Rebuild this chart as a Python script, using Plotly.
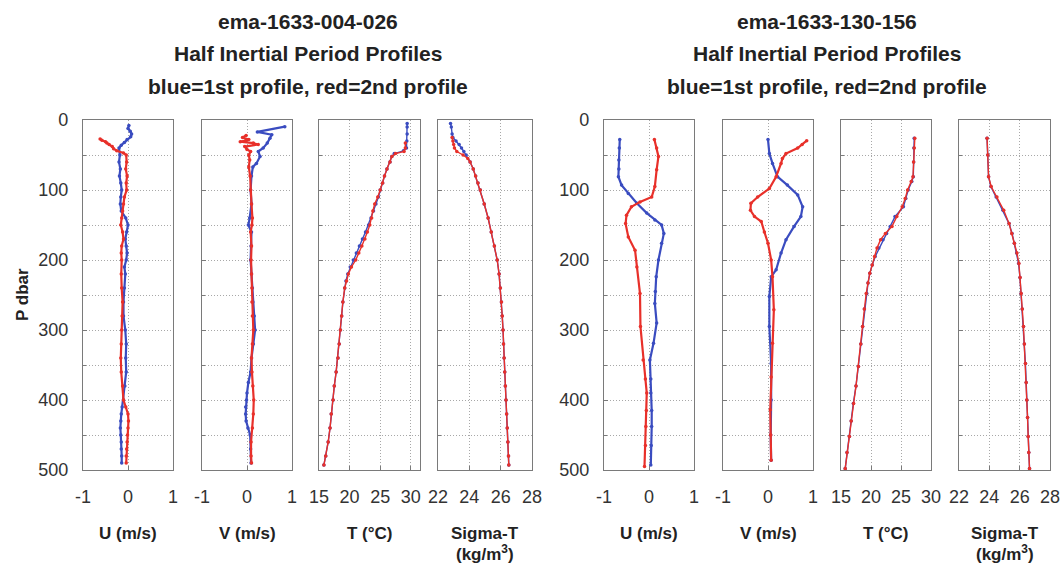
import plotly.graph_objects as go

# ---------------- data ----------------
# Left group: ema-1633-004-026
L_U_blue_P = [8, 12, 16, 20, 24, 28, 32, 36, 40, 50, 60, 70, 80, 90, 100, 110, 120, 130, 140, 150, 160, 170, 180, 190, 200, 210, 220, 240, 260, 280, 300, 320, 340, 360, 380, 400, 410, 420, 430, 440, 450, 460, 470, 480, 490]
L_U_blue = [0.02, 0.0, 0.05, 0.08, 0.06, -0.02, -0.08, -0.15, -0.2, -0.18, -0.2, -0.17, -0.19, -0.16, -0.14, -0.16, -0.17, -0.15, -0.05, 0.0, -0.03, -0.06, -0.04, -0.02, -0.04, -0.08, -0.06, -0.08, -0.1, -0.1, -0.06, -0.04, -0.05, -0.04, -0.07, -0.1, -0.13, -0.15, -0.16, -0.17, -0.16, -0.15, -0.15, -0.14, -0.14]
L_U_red_P = [27, 29, 31, 33, 35, 38, 41, 44, 47, 50, 60, 70, 80, 90, 100, 110, 120, 130, 140, 150, 160, 170, 180, 190, 200, 220, 240, 260, 280, 300, 320, 340, 360, 380, 400, 410, 420, 430, 440, 450, 460, 470, 480, 490]
L_U_red = [-0.62, -0.58, -0.5, -0.47, -0.42, -0.35, -0.32, -0.25, -0.1, -0.04, -0.03, -0.05, -0.02, -0.04, -0.03, -0.08, -0.1, -0.12, -0.14, -0.16, -0.12, -0.1, -0.14, -0.15, -0.14, -0.15, -0.14, -0.12, -0.13, -0.14, -0.15, -0.16, -0.15, -0.12, -0.1, -0.05, 0.0, 0.01, 0.0, -0.01, -0.02, -0.03, -0.04, -0.04]

L_V_blue_P = [9.5, 17, 21, 26, 33, 40, 45, 52, 62, 67, 80, 100, 120, 140, 150, 160, 180, 200, 220, 240, 260, 280, 300, 320, 340, 360, 375, 390, 400, 410, 420, 430, 440, 450, 470, 490]
L_V_blue = [0.84, 0.23, 0.55, 0.51, 0.45, 0.36, 0.25, 0.29, 0.21, 0.13, 0.1, 0.08, 0.1, 0.06, 0.03, 0.1, 0.09, 0.08, 0.1, 0.12, 0.13, 0.16, 0.18, 0.14, 0.1, 0.08, 0.03, 0.0, -0.01, -0.03, -0.03, -0.02, 0.02, 0.07, 0.08, 0.09]
L_V_red_P = [22, 25, 28, 31, 33, 35, 38, 42, 45, 50, 57, 67, 80, 100, 120, 140, 150, 160, 180, 200, 220, 240, 260, 280, 300, 320, 340, 360, 380, 400, 420, 440, 460, 480, 490]
L_V_red = [-0.02, -0.1, 0.04, -0.15, 0.14, 0.25, -0.05, 0.0, 0.08, 0.04, 0.06, 0.04, 0.07, 0.08, 0.1, 0.12, 0.11, 0.08, 0.1, 0.09, 0.1, 0.11, 0.11, 0.12, 0.14, 0.12, 0.1, 0.11, 0.13, 0.15, 0.14, 0.12, 0.09, 0.09, 0.1]

L_T_blue_P = [5, 10, 20, 30, 40, 44, 48, 52, 60, 70, 80, 90, 100, 110, 120, 130, 140, 150, 160, 170, 180, 190, 200, 210, 220, 230, 240, 260, 280, 300, 320, 340, 360, 380, 400, 420, 440, 460, 480, 493]
L_T_blue = [29.4, 29.4, 29.4, 29.35, 29.3, 28.8, 27.3, 26.9, 26.6, 26.1, 25.7, 25.4, 25.0, 24.7, 24.3, 23.9, 23.5, 23.1, 22.6, 22.1, 21.6, 21.1, 20.6, 20.1, 19.7, 19.4, 19.2, 18.9, 18.7, 18.5, 18.3, 18.1, 17.8, 17.5, 17.3, 17.0, 16.8, 16.5, 16.1, 15.8]
L_T_red_P = [33, 40, 45, 48, 52, 60, 70, 80, 90, 100, 110, 120, 130, 140, 150, 160, 170, 180, 190, 200, 210, 220, 230, 240, 260, 280, 300, 320, 340, 360, 380, 400, 420, 440, 460, 480, 493]
L_T_red = [29.1, 29.1, 28.9, 27.5, 26.9, 26.6, 26.1, 25.7, 25.4, 25.0, 24.6, 24.1, 23.8, 23.6, 23.3, 22.9, 22.5, 22.0, 21.5, 21.0, 20.3, 19.8, 19.5, 19.2, 18.9, 18.7, 18.5, 18.3, 18.1, 17.8, 17.5, 17.3, 17.0, 16.8, 16.5, 16.1, 15.8]

L_S_blue_P = [5, 10, 20, 25, 30, 35, 40, 45, 50, 60, 70, 80, 90, 100, 120, 140, 160, 180, 200, 220, 240, 260, 280, 300, 320, 340, 360, 380, 400, 420, 440, 460, 480, 493]
L_S_blue = [22.8, 22.85, 22.9, 22.95, 23.15, 23.35, 23.5, 23.65, 23.8, 24.05, 24.25, 24.4, 24.55, 24.7, 24.95, 25.2, 25.4, 25.6, 25.78, 25.9, 25.98, 26.05, 26.1, 26.15, 26.18, 26.22, 26.26, 26.3, 26.34, 26.38, 26.42, 26.46, 26.5, 26.52]
L_S_red_P = [25, 30, 35, 40, 45, 50, 55, 60, 70, 80, 90, 100, 120, 140, 160, 180, 200, 220, 240, 260, 280, 300, 320, 340, 360, 380, 400, 420, 440, 460, 480, 493]
L_S_red = [22.9, 22.95, 23.0, 23.05, 23.2, 23.6, 23.9, 24.05, 24.25, 24.4, 24.55, 24.7, 24.95, 25.2, 25.4, 25.6, 25.78, 25.9, 25.98, 26.05, 26.1, 26.15, 26.18, 26.22, 26.26, 26.3, 26.34, 26.38, 26.42, 26.46, 26.5, 26.52]

# Right group: ema-1633-130-156
R_U_blue_P = [28, 40, 57, 70, 81, 93, 105, 119, 133, 143, 150, 162, 176, 200, 224, 245, 262, 290, 319, 343, 370, 390, 415, 438, 465, 493]
R_U_blue = [-0.65, -0.66, -0.67, -0.67, -0.68, -0.61, -0.46, -0.27, -0.05, 0.13, 0.28, 0.33, 0.28, 0.21, 0.16, 0.14, 0.13, 0.17, 0.1, 0.02, 0.04, 0.04, 0.06, 0.06, 0.05, 0.04]
R_U_red_P = [28, 40, 52, 71, 95, 110, 117, 124, 136, 148, 167, 186, 210, 248, 295, 343, 370, 390, 415, 438, 465, 495]
R_U_red = [0.12, 0.17, 0.21, 0.17, 0.13, 0.06, -0.2, -0.39, -0.5, -0.52, -0.46, -0.31, -0.27, -0.2, -0.19, -0.13, -0.08, -0.05, -0.06, -0.07, -0.08, -0.1]

R_V_blue_P = [28, 48, 62, 81, 93, 107, 124, 138, 152, 171, 190, 214, 224, 252, 295, 348, 400, 450, 486]
R_V_blue = [0.0, 0.03, 0.1, 0.21, 0.43, 0.66, 0.77, 0.73, 0.58, 0.4, 0.29, 0.18, 0.07, 0.03, 0.03, 0.07, 0.07, 0.06, 0.07]
R_V_red_P = [29.5, 35, 40, 48, 55, 62, 81, 98, 110, 119, 129, 138, 145, 160, 176, 200, 224, 271, 319, 367, 414, 450, 486]
R_V_red = [0.86, 0.76, 0.66, 0.4, 0.32, 0.29, 0.18, 0.03, -0.23, -0.38, -0.39, -0.3, -0.15, -0.08, 0.0, 0.07, 0.1, 0.13, 0.1, 0.07, 0.05, 0.06, 0.07]

R_T_P = [26, 40, 60, 81, 88, 100, 112, 124, 138, 152, 162, 171, 183, 195, 207, 219, 233, 248, 270, 295, 320, 352, 380, 405, 430, 452, 475, 498]
R_T_blue = [27.2, 27.15, 27.1, 27.05, 26.8, 26.2, 25.8, 25.4, 24.0, 23.2, 22.6, 22.0, 21.3, 20.7, 20.2, 19.8, 19.5, 19.3, 18.9, 18.6, 18.3, 17.9, 17.5, 17.05, 16.7, 16.4, 16.0, 15.7]
R_T_red = [27.3, 27.2, 27.1, 27.0, 26.7, 26.1, 25.7, 25.2, 24.3, 23.5, 22.4, 21.6, 21.0, 20.6, 20.2, 19.8, 19.5, 19.2, 18.9, 18.6, 18.3, 17.9, 17.5, 17.1, 16.7, 16.4, 16.0, 15.7]

R_S_P = [26, 50, 81, 95, 110, 129, 148, 162, 176, 190, 205, 225, 248, 270, 295, 320, 348, 375, 400, 425, 452, 475, 498]
R_S_blue = [23.85, 23.9, 23.95, 24.1, 24.45, 24.9, 25.3, 25.5, 25.65, 25.8, 25.93, 26.02, 26.09, 26.17, 26.25, 26.31, 26.38, 26.43, 26.47, 26.52, 26.56, 26.6, 26.65]
R_S_red = [23.85, 23.9, 23.95, 24.12, 24.5, 24.95, 25.3, 25.48, 25.65, 25.82, 25.95, 26.03, 26.1, 26.17, 26.25, 26.31, 26.38, 26.43, 26.47, 26.52, 26.56, 26.6, 26.65]

titles_left = ["ema-1633-004-026", "Half Inertial Period Profiles", "blue=1st profile, red=2nd profile"]
titles_right = ["ema-1633-130-156", "Half Inertial Period Profiles", "blue=1st profile, red=2nd profile"]
x_titles = ["U (m/s)", "V (m/s)", "T (°C)", "Sigma-T<br>(kg/m<sup>3</sup>)"]
y_title = "P dbar"
y_ticks = [0, 100, 200, 300, 400, 500]
x_ticks = [[-1, 0, 1], [-1, 0, 1], [15, 20, 25, 30], [22, 24, 26, 28]]

# ---------------- layout ----------------
W, H = 1062, 568


def fx(px):  # page pixel x -> paper fraction
    return px / W


def fy(py):  # page pixel y -> paper fraction
    return 1 - py / H


BLUE = "#3a4cc0"
RED = "#e8302a"
GRID = "#a8a8a8"
FRAME = "#7a7a7a"
px_dom = [(83, 173), (202, 292), (319, 420), (438, 532),
          (604, 694), (723, 813), (841, 931), (959, 1050)]
ranges = [[-1, 1], [-1, 1], [15, 31.5], [22, 28],
          [-1, 1], [-1, 1], [15, 30], [22, 28]]
ydom = [fy(470), fy(120)]

series = [
    [(L_U_blue_P, L_U_blue, BLUE), (L_U_red_P, L_U_red, RED)],
    [(L_V_blue_P, L_V_blue, BLUE), (L_V_red_P, L_V_red, RED)],
    [(L_T_blue_P, L_T_blue, BLUE), (L_T_red_P, L_T_red, RED)],
    [(L_S_blue_P, L_S_blue, BLUE), (L_S_red_P, L_S_red, RED)],
    [(R_U_blue_P, R_U_blue, BLUE), (R_U_red_P, R_U_red, RED)],
    [(R_V_blue_P, R_V_blue, BLUE), (R_V_red_P, R_V_red, RED)],
    [(R_T_P, R_T_blue, BLUE), (R_T_P, R_T_red, RED)],
    [(R_S_P, R_S_blue, BLUE), (R_S_P, R_S_red, RED)],
]

FONT = "Liberation Sans, Arial, sans-serif"
fig = go.Figure()
layout = dict(width=W, height=H, margin=dict(l=0, r=0, t=0, b=0, autoexpand=False),
              paper_bgcolor="white", plot_bgcolor="white", showlegend=False,
              font=dict(family=FONT, size=18, color="#333333"))

for i in range(8):
    xa = "x" if i == 0 else f"x{i+1}"
    ya = "y" if i == 0 else f"y{i+1}"
    uv = (i % 4) < 2
    for P, vals, col in series[i]:
        fig.add_trace(go.Scatter(x=vals, y=P, xaxis=xa, yaxis=ya, mode="lines+markers",
                                 line=dict(color=col, width=2.2 if uv else 1.4),
                                 marker=dict(color=col, size=3.5)))
    x0, x1 = px_dom[i]
    kx = "xaxis" if i == 0 else f"xaxis{i+1}"
    ky = "yaxis" if i == 0 else f"yaxis{i+1}"
    layout[kx] = dict(domain=[fx(x0), fx(x1)], range=ranges[i], anchor=ya,
                      automargin=False,
                      tickvals=x_ticks[i % 4], ticktext=[str(v) for v in x_ticks[i % 4]],
                      showline=True, mirror=True, linecolor=FRAME, linewidth=1.2,
                      showgrid=True, gridcolor=GRID, griddash="1px,2px", gridwidth=1,
                      zeroline=False, ticks="inside", ticklen=4, tickcolor=FRAME,
                      ticklabelstandoff=10,
                      tickfont=dict(size=18, color="#333333"))
    layout[ky] = dict(domain=ydom, range=[500, 0], anchor=xa,
                      automargin=False,
                      tickvals=y_ticks, showticklabels=(i % 4 == 0),
                      showline=True, mirror=True, linecolor=FRAME, linewidth=1.2,
                      showgrid=True, gridcolor=GRID, griddash="1px,2px", gridwidth=1,
                      minor=dict(dtick=50, tick0=0, showgrid=True, gridcolor=GRID,
                                 griddash="1px,2px", ticks="inside", ticklen=3, tickcolor=FRAME),
                      zeroline=False, ticks="inside", ticklen=4, tickcolor=FRAME,
                      ticklabelstandoff=10,
                      tickfont=dict(size=18, color="#333333"))

ann = []
for group, titles in ((0, titles_left), (1, titles_right)):
    cx = fx((px_dom[group * 4][0] + px_dom[group * 4 + 3][1]) / 2)
    for j, t in enumerate(titles):
        ann.append(dict(text=f"<b>{t}</b>", x=cx, y=fy(21 + 32.5 * j),
                        xref="paper", yref="paper", showarrow=False,
                        xanchor="center", yanchor="middle",
                        font=dict(size=21, color="#222222", family=FONT)))
    for k in range(4):
        x0, x1 = px_dom[group * 4 + k]
        parts = x_titles[k].split("<br>")
        for m, part in enumerate(parts):
            ann.append(dict(text=f"<b>{part}</b>", x=fx((x0 + x1) / 2), y=fy(533 + 20 * m),
                            xref="paper", yref="paper", showarrow=False,
                            xanchor="center", yanchor="middle",
                            font=dict(size=17, color="#222222", family=FONT)))
ann.append(dict(text=f"<b>{y_title}</b>", x=fx(22), y=fy(295), textangle=-90,
                xref="paper", yref="paper", showarrow=False,
                xanchor="center", yanchor="middle",
                font=dict(size=17, color="#222222", family=FONT)))
layout["annotations"] = ann
fig.update_layout(**layout)
fig.write_html("out.html", config={"displayModeBar": False},
               post_script="document.body.style.margin='0';document.body.style.overflow='hidden';")
